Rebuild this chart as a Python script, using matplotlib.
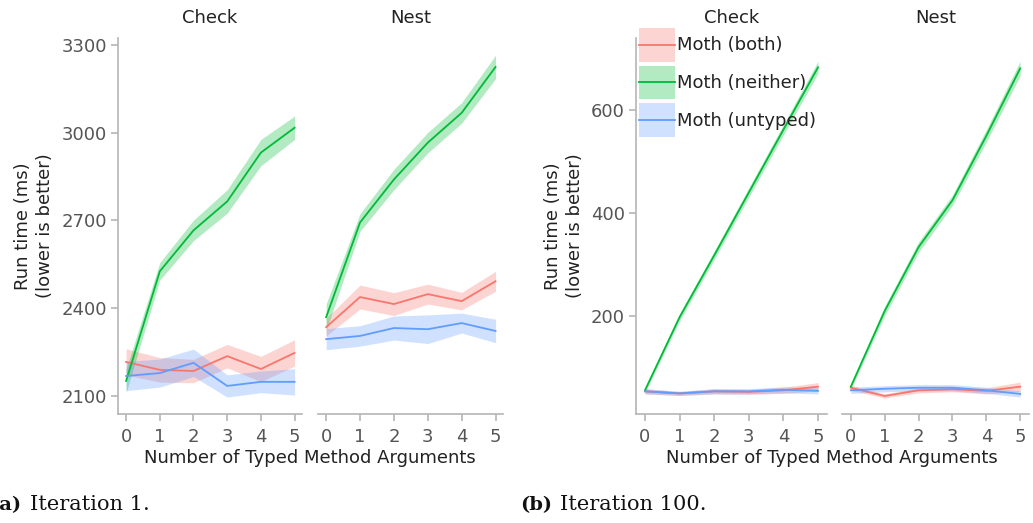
import matplotlib
matplotlib.use("Agg")
import matplotlib.pyplot as plt
import numpy as np
from matplotlib.patches import Patch, Rectangle
from matplotlib.lines import Line2D
from matplotlib.legend_handler import HandlerBase

plt.rcParams['font.family'] = ['DejaVu Sans']

x = [0, 1, 2, 3, 4, 5]
x_ticks = [0, 1, 2, 3, 4, 5]
panels = ["Check", "Nest"]
series = ["Moth (both)", "Moth (neither)", "Moth (untyped)"]
colors = ["#F8766D", "#00BA38", "#619CFF"]

# Iteration 1 (means and CI half-widths)
it1_check_both = [2216, 2189, 2185, 2236, 2192, 2247]
it1_check_both_err = [45, 42, 40, 40, 43, 45]
it1_check_neither = [2151, 2526, 2666, 2765, 2932, 3017]
it1_check_neither_err = [40, 30, 35, 40, 45, 40]
it1_check_untyped = [2168, 2178, 2213, 2134, 2148, 2148]
it1_check_untyped_err = [50, 48, 47, 38, 37, 45]

it1_nest_both = [2335, 2438, 2414, 2448, 2424, 2492]
it1_nest_both_err = [30, 41, 39, 34, 30, 34]
it1_nest_neither = [2369, 2693, 2840, 2966, 3068, 3225]
it1_nest_neither_err = [45, 30, 35, 35, 35, 40]
it1_nest_untyped = [2294, 2305, 2332, 2328, 2349, 2322]
it1_nest_untyped_err = [36, 35, 41, 49, 34, 40]

# Iteration 100
it100_check_both = [54, 50, 54, 53, 56, 63]
it100_check_both_err = [5, 4, 5, 5, 6, 8]
it100_check_neither = [56, 198, 318, 440, 562, 683]
it100_check_neither_err = [5, 7, 8, 9, 10, 12]
it100_check_untyped = [54, 50, 54, 54, 57, 55]
it100_check_untyped_err = [5, 4, 5, 5, 6, 6]

it100_nest_both = [61, 45, 56, 58, 55, 63]
it100_nest_both_err = [5, 4, 5, 5, 6, 9]
it100_nest_neither = [63, 210, 334, 425, 550, 681]
it100_nest_neither_err = [5, 9, 10, 10, 12, 14]
it100_nest_untyped = [56, 59, 61, 61, 56, 49]
it100_nest_untyped_err = [6, 6, 6, 6, 6, 6]

it1_yticks = [2100, 2400, 2700, 3000, 3300]
it100_yticks = [200, 400, 600]

it1_data = {
    "Check": [(it1_check_both, it1_check_both_err),
              (it1_check_neither, it1_check_neither_err),
              (it1_check_untyped, it1_check_untyped_err)],
    "Nest": [(it1_nest_both, it1_nest_both_err),
             (it1_nest_neither, it1_nest_neither_err),
             (it1_nest_untyped, it1_nest_untyped_err)],
}
it100_data = {
    "Check": [(it100_check_both, it100_check_both_err),
              (it100_check_neither, it100_check_neither_err),
              (it100_check_untyped, it100_check_untyped_err)],
    "Nest": [(it100_nest_both, it100_nest_both_err),
             (it100_nest_neither, it100_nest_neither_err),
             (it100_nest_untyped, it100_nest_untyped_err)],
}

W, H = 1033, 523
fig = plt.figure(figsize=(W / 100, H / 100), dpi=100)

def px_axes(x0, x1, y0, y1):
    return fig.add_axes([x0 / W, 1 - y1 / H, (x1 - x0) / W, (y1 - y0) / H])

spine_c = "#b5b5b5"
tick_c = "#555555"
FS = 13

def style(ax, show_y, yticks, ylim, xlim):
    for s in ["top", "right"]:
        ax.spines[s].set_visible(False)
    ax.spines["bottom"].set_color(spine_c)
    ax.spines["left"].set_color(spine_c)
    ax.spines["bottom"].set_linewidth(1.2)
    ax.spines["left"].set_linewidth(1.2)
    ax.set_xlim(*xlim)
    ax.set_ylim(*ylim)
    ax.set_xticks(x_ticks)
    ax.tick_params(axis="x", colors=tick_c, labelsize=FS, length=5, width=1.2,
                   color=spine_c, pad=5)
    if show_y:
        ax.set_yticks(yticks)
        ax.tick_params(axis="y", colors=tick_c, labelsize=FS, length=5, width=1.2,
                       color=spine_c, pad=3)
    else:
        ax.spines["left"].set_visible(False)
        ax.set_yticks([])

def draw(ax, data):
    for (m, e), c in zip(data, colors):
        m = np.array(m, float)
        e = np.array(e, float)
        ax.fill_between(x, m - e, m + e, color=c, alpha=0.3, lw=0)
        ax.plot(x, m, color=c, lw=1.3)

# Iteration 1
ax1 = px_axes(118, 302, 38, 414)
ax2 = px_axes(318, 503, 38, 414)
# Iteration 100
ax3 = px_axes(636, 827, 38, 414)
ax4 = px_axes(842, 1029, 38, 414)

for ax, name, show in [(ax1, "Check", True), (ax2, "Nest", False)]:
    draw(ax, it1_data[name])
    style(ax, show, it1_yticks, (2038, 3324), (-0.24, 5.22))
    ax.set_title(name, fontsize=FS, color="#222222", pad=11)
for ax, name, show in [(ax3, "Check", True), (ax4, "Nest", False)]:
    draw(ax, it100_data[name])
    style(ax, show, it100_yticks, (10, 740), (-0.26, 5.26))
    ax.set_title(name, fontsize=FS, color="#222222", pad=11)

ylab = "Run time (ms)\n(lower is better)"
ax1.set_ylabel(ylab, fontsize=FS, color="#222222", labelpad=5, linespacing=1.3)
ax3.set_ylabel(ylab, fontsize=FS, color="#222222", labelpad=5, linespacing=1.3)

fig.text(310 / W, 1 - 458 / H, "Number of Typed Method Arguments", ha="center",
         va="center", fontsize=FS, color="#222222")
fig.text(832 / W, 1 - 458 / H, "Number of Typed Method Arguments", ha="center",
         va="center", fontsize=FS, color="#222222")


class BandLineHandler(HandlerBase):
    def create_artists(self, legend, orig_handle, xdescent, ydescent, width,
                       height, fontsize, trans):
        c = orig_handle.get_facecolor()
        col = orig_handle._band_color
        rect = Rectangle((-xdescent, -ydescent), width, height,
                         facecolor=col, alpha=0.3, lw=0, transform=trans)
        yc = -ydescent + height / 2
        line = Line2D([-xdescent, -xdescent + width], [yc, yc], color=col, lw=1.3,
                      transform=trans)
        return [rect, line]


handles = []
for c in colors:
    p = Patch(facecolor=c)
    p._band_color = c
    handles.append(p)

leg = ax3.legend(handles, series, handler_map={Patch: BandLineHandler()},
                 loc="upper left", bbox_to_anchor=(0.016, 1.027), frameon=False,
                 fontsize=FS, handlelength=2.0, handleheight=2.5, labelspacing=0.22,
                 handletextpad=0.1, borderpad=0, borderaxespad=0)
for t in leg.get_texts():
    t.set_color("#222222")

# captions
serif = ["DejaVu Serif"]
fig.text(21 / W, 1 - 505 / H, "(a)", ha="right", va="center", fontsize=14,
         fontweight="bold", family=serif, color="#111111")
fig.text(30 / W, 1 - 505 / H, "Iteration 1.", ha="left", va="center", fontsize=15,
         family=serif, color="#111111")
fig.text(520 / W, 1 - 505 / H, "(b)", ha="left", va="center", fontsize=14,
         fontweight="bold", family=serif, color="#111111")
fig.text(560 / W, 1 - 505 / H, "Iteration 100.", ha="left", va="center", fontsize=15,
         family=serif, color="#111111")

fig.savefig("out.png", dpi=100)
